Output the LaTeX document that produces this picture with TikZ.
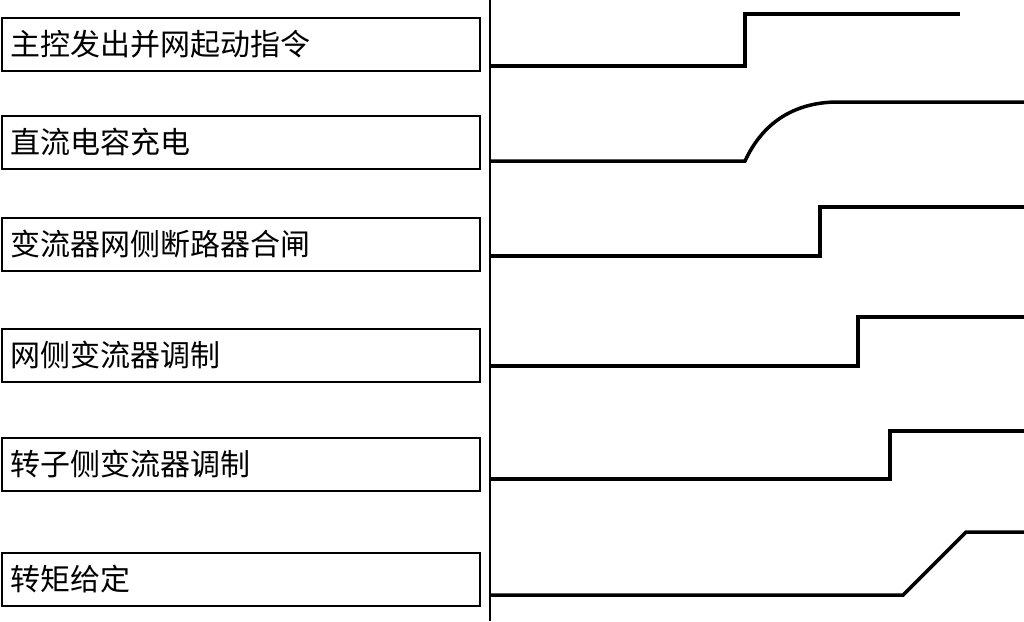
\documentclass[tikz,border=0pt]{standalone}
\usepackage{fontspec}
\newfontfamily\cjk{Noto Sans CJK SC}
\begin{document}
\begin{tikzpicture}[x=1pt,y=-1pt,
  box/.style={draw, line width=1.8pt, minimum height=53pt, text width=460pt,
    inner xsep=9pt, inner ysep=0pt, align=left, anchor=north west,
    font=\cjk\fontsize{30}{32}\selectfont},
  wave/.style={line width=3.5pt, line join=miter},
  axisline/.style={line width=1.8pt}]
\useasboundingbox (0,0) rectangle (1024,621);
% label boxes
\node[box] (b1) at (1,17)  {主控发出并网起动指令};
\node[box] (b2) at (1,115) {直流电容充电};
\node[box] (b3) at (1,217) {变流器网侧断路器合闸};
\node[box] (b4) at (1,328) {网侧变流器调制};
\node[box] (b5) at (1,437) {转子侧变流器调制};
\node[box] (b6) at (1,552) {转矩给定};
% time axis
\coordinate (axtop) at (490,0);
\coordinate (axbot) at (490,621);
\draw[axisline] (axtop) -- (axbot);
% waveforms
\draw[wave] (490,66) -- (745,66) -- (745,14) -- (960,14);
\draw[wave] (490,161) -- (745,161) .. controls (763,122) and (795,102) .. (838,102) -- (1024,102);
\draw[wave] (490,256) -- (820,256) -- (820,207) -- (1024,207);
\draw[wave] (490,366) -- (858,366) -- (858,317) -- (1024,317);
\draw[wave] (490,479) -- (890,479) -- (890,431) -- (1024,431);
\draw[wave] (490,595) -- (903,595) -- (966,532) -- (1024,532);
\end{tikzpicture}
\end{document}
